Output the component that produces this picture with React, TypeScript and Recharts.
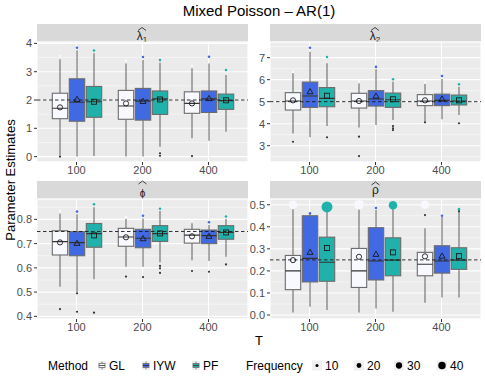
import React from 'react';
import { ComposedChart, Bar, XAxis, YAxis, CartesianGrid, ReferenceLine } from 'recharts';

const T_LABELS = ['100', '200', '400'];
const METHODS = ['GL', 'IYW', 'PF'];
const FILLS = ['#F8F8FF', '#4169E1', '#20B2AA'];
const FREQ_BREAKS = [10, 20, 30, 40];

// each box: [lower whisker, q1, median, q3, upper whisker, mean], per method (GL, IYW, PF) x T (100, 200, 400)
const lam1Stats = [
  [[0.05, 1.34, 1.71, 2.24, 3.44, 1.74], [0.0, 1.32, 1.79, 2.34, 3.29, 1.88], [0.65, 1.53, 1.88, 2.29, 3.12, 1.88]],
  [[0.0, 1.25, 1.92, 2.75, 3.76, 2.02], [0.0, 1.29, 1.96, 2.41, 3.41, 1.95], [0.56, 1.56, 2.04, 2.32, 3.29, 2.05]],
  [[0.02, 1.39, 1.94, 2.48, 3.65, 1.94], [0.35, 1.49, 2.04, 2.32, 3.32, 2.02], [0.88, 1.67, 1.98, 2.21, 2.88, 1.99]],
];
const lam1Out = [[[0.0], [], [0.02]], [[], [], []], [[], [0.12, 0.03], []]];
const lam1Top = [[3.56, 3.39, 3.21], [3.85, 3.52, 3.53], [3.75, 3.41, 3.06]];
const lam1TopN = [[8, 8, 8], [8, 8, 8], [8, 8, 8]];

const lam2Stats = [
  [[3.56, 4.62, 5.03, 5.41, 6.29, 5.06], [3.83, 4.71, 5.03, 5.38, 5.83, 5.03], [4.1, 4.82, 5.03, 5.32, 5.8, 5.06]],
  [[3.38, 4.74, 5.26, 5.89, 7.27, 5.45], [3.94, 4.8, 5.12, 5.5, 6.47, 5.25], [4.2, 4.82, 5.06, 5.34, 6.03, 5.12]],
  [[3.89, 4.77, 5.15, 5.64, 6.74, 5.27], [4.17, 4.74, 5.09, 5.39, 5.91, 5.11], [4.4, 4.85, 5.03, 5.3, 5.68, 5.06]],
];
const lam2Out = [[[3.18], [3.41, 2.53], [4.06]], [[], [], []], [[3.38], [3.89, 3.79, 3.71], [4.02]]];
const lam2Top = [[6.36, 5.94, 5.88], [7.45, 6.58, 6.17], [7.03, 6.02, 5.79]];
const lam2TopN = [[8, 8, 8], [8, 8, 8], [8, 8, 8]];

const phiStats = [
  [[0.522, 0.653, 0.708, 0.753, 0.823, 0.705], [0.605, 0.689, 0.727, 0.763, 0.801, 0.726], [0.631, 0.702, 0.735, 0.759, 0.784, 0.73]],
  [[0.5, 0.65, 0.704, 0.749, 0.821, 0.701], [0.605, 0.683, 0.722, 0.759, 0.804, 0.72], [0.628, 0.7, 0.733, 0.756, 0.777, 0.73]],
  [[0.553, 0.685, 0.741, 0.783, 0.85, 0.734], [0.623, 0.709, 0.741, 0.774, 0.834, 0.742], [0.646, 0.718, 0.746, 0.774, 0.801, 0.746]],
];
const phiOut = [[[0.43], [0.564], [0.587]], [[0.495, 0.419], [0.562], [0.584]], [[0.415], [0.608, 0.598, 0.579], [0.614]]];
const phiTop = [[0.834, 0.811, 0.796], [0.832, 0.815, 0.788], [0.862, 0.844, 0.812]];
const phiTopN = [[8, 8, 8], [8, 8, 8], [8, 8, 8]];

const rhoStats = [
  [[0.012, 0.115, 0.2, 0.27, 0.479, 0.249], [0.011, 0.125, 0.2, 0.302, 0.479, 0.264], [0.056, 0.178, 0.23, 0.284, 0.393, 0.266]],
  [[0.038, 0.15, 0.257, 0.45, 0.458, 0.284], [0.03, 0.159, 0.245, 0.396, 0.476, 0.275], [0.08, 0.19, 0.245, 0.314, 0.446, 0.267]],
  [[0.023, 0.153, 0.239, 0.353, 0.471, 0.304], [0.015, 0.178, 0.249, 0.35, 0.483, 0.284], [0.079, 0.207, 0.249, 0.305, 0.468, 0.267]],
];
const rhoOut = [[[], [], [0.453]], [[], [], []], [[], [], [0.471]]];
const rhoTop = [[0.5, 0.5, 0.5], [0.461, 0.485, 0.45], [0.49, 0.498, 0.48]];
const rhoTopN = [[51, 62, 48], [8, 8, 8], [78, 50, 8]];

const FONT = 'Liberation Sans, Arial, Helvetica, sans-serif';

const sizeR = (f: number) => Math.max(0.9, 0.7 * Math.sqrt(f) - 0.7);

function buildRows(stats: number[][][], outs: number[][][], top: number[][], topN: number[][]) {
  return T_LABELS.map((t, i) => {
    const row: any = { t };
    METHODS.forEach((m, j) => {
      const [wl, q1, med, q3, wh, mean] = stats[j][i];
      const out = outs[j][i];
      const pts = [[top[j][i], topN[j][i]]];
      const all = [wl, wh, ...out, ...pts.map((p) => p[0])];
      row[m] = { wl, q1, med, q3, wh, mean, out, pts, lo: Math.min(...all), hi: Math.max(...all) };
    });
    return row;
  });
}

const boxShape = (m: string, j: number) => (props: any) => {
  const { x, y, width, height, payload } = props;
  const s = payload[m];
  const top = Math.min(y, y + height);
  const h = Math.abs(height);
  const py = (v: number) => top + (h * (s.hi - v)) / (s.hi - s.lo);
  const cx = x + width / 2;
  const bw = width - 1.6;
  const bx = cx - bw / 2;
  const my = py(s.mean);
  let marker;
  if (j === 0) marker = <circle cx={cx} cy={my} r={2.6} fill="none" stroke="#1a1a1a" strokeWidth={0.9} />;
  else if (j === 1)
    marker = (
      <polygon
        points={`${cx},${my - 3.2} ${cx - 3},${my + 2} ${cx + 3},${my + 2}`}
        fill="none"
        stroke="#1a1a1a"
        strokeWidth={0.9}
      />
    );
  else marker = <rect x={cx - 2.5} y={my - 2.5} width={5} height={5} fill="none" stroke="#1a1a1a" strokeWidth={0.9} />;
  return (
    <g>
      <line x1={cx} x2={cx} y1={py(s.wh)} y2={py(s.q3)} stroke="#6b6b6b" strokeWidth={1.1} />
      <line x1={cx} x2={cx} y1={py(s.q1)} y2={py(s.wl)} stroke="#6b6b6b" strokeWidth={1.1} />
      <rect x={bx} y={py(s.q3)} width={bw} height={py(s.q1) - py(s.q3)} fill={FILLS[j]} stroke="#6b6b6b" strokeWidth={1.1} />
      <line x1={bx} x2={bx + bw} y1={py(s.med)} y2={py(s.med)} stroke="#333" strokeWidth={1.1} />
      {s.out.map((v: number, k: number) => (
        <circle key={'o' + k} cx={cx} cy={py(v)} r={1.1} fill="#333" />
      ))}
      {s.pts.map((p: number[], k: number) => (
        <circle key={'p' + k} cx={cx} cy={py(p[0])} r={sizeR(p[1])} fill={FILLS[j]} />
      ))}
      {marker}
    </g>
  );
};

function minorOf(ticks: number[], domain: number[]) {
  const step = ticks[1] - ticks[0];
  const res: number[] = [];
  for (let k = -1; k < ticks.length; k++) {
    const v = ticks[0] + step * (k + 0.5);
    if (v > domain[0] && v < domain[1]) res.push(+v.toFixed(4));
  }
  return res;
}

function Panel(props: any) {
  const { left, top, width, yw, right, rows, domain, ticks, refV, digits } = props;
  const minor = minorOf(ticks, domain);
  const tickStyle = { fontSize: 11, fill: '#4D4D4D', fontFamily: FONT };
  // chart starts 10px above the panel so the top tick label is not clipped
  return (
    <div style={{ position: 'absolute', left, top: top - 10 }}>
      <ComposedChart
        width={width}
        height={148}
        data={rows}
        margin={{ top: 10, right, bottom: 0, left: 0 }}
        barCategoryGap={8}
        barGap={0}
      >
        <CartesianGrid yAxisId="minor" vertical={false} stroke="#fff" strokeWidth={0.5} fill="#EBEBEB" />
        <CartesianGrid stroke="#fff" strokeWidth={1.1} />
        <XAxis
          dataKey="t"
          height={18}
          padding={{ left: 6.5, right: 6.5 }}
          axisLine={false}
          tickSize={3}
          tickMargin={1}
          tickLine={{ stroke: '#333' }}
          tick={tickStyle}
        />
        <YAxis
          type="number"
          domain={domain}
          ticks={ticks}
          interval={0}
          allowDataOverflow
          width={yw}
          axisLine={false}
          tickSize={3}
          tickMargin={2}
          tickLine={{ stroke: '#333' }}
          tick={tickStyle}
          tickFormatter={(v: number) => v.toFixed(digits)}
        />
        <YAxis yAxisId="minor" type="number" hide domain={domain} ticks={minor} interval={0} allowDataOverflow />
        {METHODS.map((m, j) => (
          <Bar
            key={m}
            dataKey={(d: any) => [d[m].lo, d[m].hi]}
            fill={FILLS[j]}
            shape={boxShape(m, j)}
            isAnimationActive={false}
          />
        ))}
        <ReferenceLine y={refV} stroke="#1a1a1a" strokeWidth={0.9} strokeDasharray="3.5 2.5" />
      </ComposedChart>
    </div>
  );
}

function StripLabel({ cx, baseline, hatY, letter, sub, size }: any) {
  return (
    <g>
      <path
        d={`M${cx - 4} ${hatY + 3} L${cx} ${hatY} L${cx + 4} ${hatY + 3}`}
        fill="none"
        stroke="#1a1a1a"
        strokeWidth={0.8}
      />
      <text x={cx} y={baseline} textAnchor="middle" fontSize={size || 12} fill="#1a1a1a">
        {letter}
        {sub ? (
          <tspan fontSize={8} dy={1.5}>
            {sub}
          </tspan>
        ) : null}
      </text>
    </g>
  );
}

const legendKeyX = [98, 142, 192];
const legendTextX = [109, 153, 203];
const freqDotX = [317, 359, 399, 442];

export default function App() {
  const lam1Rows = buildRows(lam1Stats, lam1Out, lam1Top, lam1TopN);
  const lam2Rows = buildRows(lam2Stats, lam2Out, lam2Top, lam2TopN);
  const phiRows = buildRows(phiStats, phiOut, phiTop, phiTopN);
  const rhoRows = buildRows(rhoStats, rhoOut, rhoTop, rhoTopN);
  return (
    <div style={{ position: 'absolute', left: 0, top: 0, width: 485, height: 381, background: '#fff', fontFamily: FONT }}>
      <svg width={485} height={381} style={{ position: 'absolute', left: 0, top: 0 }} fontFamily={FONT}>
        <text x={259} y={16} textAnchor="middle" fontSize={15} fill="#000">
          Mixed Poisson – AR(1)
        </text>
        <text x={15} y={180} textAnchor="middle" fontSize={13} fill="#000" transform="rotate(-90 15 180)">
          Parameter Estimates
        </text>
        <rect x={37} y={24} width={211} height={18} fill="#D9D9D9" />
        <rect x={270} y={24} width={211} height={18} fill="#D9D9D9" />
        <rect x={37} y={181} width={211} height={18} fill="#D9D9D9" />
        <rect x={270} y={181} width={211} height={18} fill="#D9D9D9" />
        <StripLabel cx={142} baseline={40} hatY={27.5} letter="λ" sub="1" />
        <StripLabel cx={375} baseline={40} hatY={27.5} letter="λ" sub="2" />
        <StripLabel cx={142.5} baseline={196.5} hatY={181} letter="ϕ" size={10} />
        <StripLabel cx={375.5} baseline={194} hatY={182} letter="ρ" />
        <text x={259} y={345} textAnchor="middle" fontSize={13} fill="#000">
          T
        </text>
        <text x={48} y={370} fontSize={12} fill="#000">
          Method
        </text>
        {METHODS.map((m, j) => (
          <g key={m}>
            <rect x={legendKeyX[j]} y={361} width={8} height={9} fill="#F0F0F0" />
            <line x1={legendKeyX[j] + 4} x2={legendKeyX[j] + 4} y1={361.5} y2={369.5} stroke="#6b6b6b" strokeWidth={0.8} />
            <rect x={legendKeyX[j] + 1} y={363.5} width={6} height={4} fill={FILLS[j]} stroke="#6b6b6b" strokeWidth={0.8} />
            <line x1={legendKeyX[j] + 1} x2={legendKeyX[j] + 7} y1={365.5} y2={365.5} stroke="#333" strokeWidth={0.8} />
            <text x={legendTextX[j]} y={370} fontSize={12} fill="#000">
              {m}
            </text>
          </g>
        ))}
        <text x={246} y={370} fontSize={12} fill="#000">
          Frequency
        </text>
        {FREQ_BREAKS.map((f, k) => (
          <g key={f}>
            <rect x={freqDotX[k] - 5} y={360.5} width={10} height={10} fill="#F0F0F0" />
            <circle cx={freqDotX[k]} cy={365.5} r={sizeR(f)} fill="#000" />
            <text x={freqDotX[k] + 8} y={370} fontSize={12} fill="#000">
              {f}
            </text>
          </g>
        ))}
      </svg>
      <Panel left={0} top={42} width={250} yw={37} right={2} rows={lam1Rows} domain={[-0.19, 4.05]} ticks={[0, 1, 2, 3, 4]} refV={2} digits={0} />
      <Panel left={250} top={42} width={235} yw={20} right={4} rows={lam2Rows} domain={[2.26, 7.71]} ticks={[3, 4, 5, 6, 7]} refV={5} digits={0} />
      <Panel left={0} top={199} width={250} yw={37} right={2} rows={phiRows} domain={[0.389, 0.884]} ticks={[0.4, 0.5, 0.6, 0.7, 0.8]} refV={0.75} digits={1} />
      <Panel left={250} top={199} width={235} yw={20} right={4} rows={rhoRows} domain={[-0.018, 0.526]} ticks={[0, 0.1, 0.2, 0.3, 0.4, 0.5]} refV={0.25} digits={1} />
    </div>
  );
}
